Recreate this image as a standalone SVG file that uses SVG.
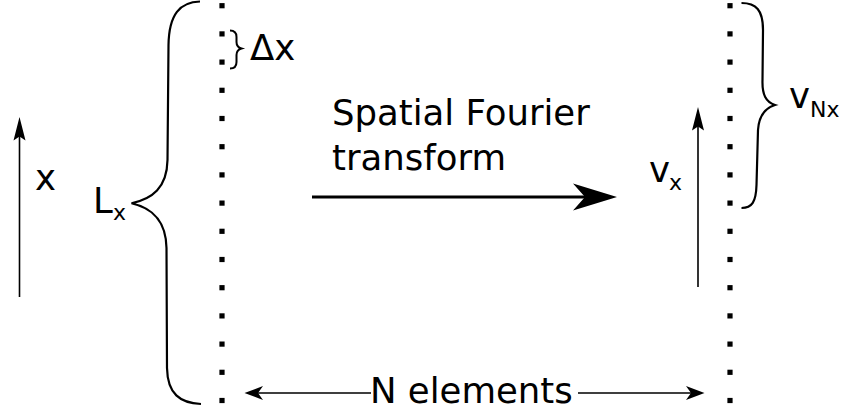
<svg xmlns="http://www.w3.org/2000/svg" width="843" height="413" viewBox="0 0 843 413">
<style>
text{font-family:"DejaVu Sans",Verdana,sans-serif;fill:#000}
.t{font-size:35.5px}
.s{font-size:22px}
.br{fill:none;stroke:#000;stroke-width:2.2}
.ln{fill:none;stroke:#000;stroke-width:1.6}
.dot{fill:#000}
</style>
<defs>
<rect id="d" x="-2.6" y="-2.6" width="5.2" height="5.2" class="dot"/>
</defs>
<rect width="843" height="413" fill="#fff"/>
<g id="left-column">
<use href="#d" x="222" y="5.7"/><use href="#d" x="222" y="33.9"/><use href="#d" x="222" y="62.1"/><use href="#d" x="222" y="90.3"/><use href="#d" x="222" y="118.5"/><use href="#d" x="222" y="146.7"/><use href="#d" x="222" y="174.9"/><use href="#d" x="222" y="203.1"/><use href="#d" x="222" y="231.3"/><use href="#d" x="222" y="259.5"/><use href="#d" x="222" y="287.7"/><use href="#d" x="222" y="315.9"/><use href="#d" x="222" y="344.1"/><use href="#d" x="222" y="372.3"/><use href="#d" x="222" y="400.5"/>
</g>
<g id="right-column">
<use href="#d" x="730" y="5.7"/><use href="#d" x="730" y="33.9"/><use href="#d" x="730" y="62.1"/><use href="#d" x="730" y="90.3"/><use href="#d" x="730" y="118.5"/><use href="#d" x="730" y="146.7"/><use href="#d" x="730" y="174.9"/><use href="#d" x="730" y="203.1"/><use href="#d" x="730" y="231.3"/><use href="#d" x="730" y="259.5"/><use href="#d" x="730" y="287.7"/><use href="#d" x="730" y="315.9"/><use href="#d" x="730" y="344.1"/><use href="#d" x="730" y="372.3"/><use href="#d" x="730" y="400.5"/>
</g>
<g id="Lx-brace">
<path class="br" d="M200,1.5 C180,2 169,14 168.5,45 L167.5,160 C167,188 152,199 131.5,203.3 C152,208 166,220 166.5,248 L167,368 C167.5,394 180,403 201,404"/>
<text class="t" x="93" y="213">L</text><text class="s" x="113" y="220">x</text>
</g>
<g id="dx-brace">
<path class="br" d="M230,30.5 C235,30.5 236.5,33 236.5,37 L236.5,42 C236.5,45.5 238,47.5 241.5,48.5 C238,49.5 236.5,51.5 236.5,55 L236.5,62 C236.5,66 235,68.5 230,68.5" style="stroke-width:2"/>
<text class="t" x="250" y="60">Δx</text>
</g>
<g id="vNx-brace">
<path class="br" d="M741.5,3 C756,3 763,10 763,30 L762.5,80 C762,95 766,102 775,105 C765,108 759,115 758,130 L756.5,185 C756,202 752,208 741.5,208"/>
<text class="t" x="789" y="108">v</text><text class="s" x="810" y="117">Nx</text>
</g>
<g id="labels">
<text class="t" x="35" y="190">x</text>
<text class="t" x="649" y="182">v</text><text class="s" x="669" y="190">x</text>
<text class="t" x="332" y="125">Spatial Fourier</text>
<text class="t" x="332" y="170">transform</text>
<text class="t" x="370" y="403">N elements</text>
</g>
<g id="connectors">
<path class="ln" d="M19.5,297 V134"/>
<path d="M19.5,117 L25.5,140.5 L19.5,136.5 L13.5,140.5 Z"/>
<path class="ln" d="M698,287 V124"/>
<path d="M698,107 L704,130.5 L698,126.5 L692,130.5 Z"/>
<path d="M312,197 H590" fill="none" stroke="#000" stroke-width="3"/>
<path d="M617,197 L573,183.5 L585,197 L573,210.5 Z"/>
<path class="ln" d="M250,393 H371 M578,393 H699"/>
<path d="M244.5,393 L263,386 L258,393 L263,400 Z"/>
<path d="M704.5,393 L686,386 L691,393 L686,400 Z"/>
</g>
</svg>
